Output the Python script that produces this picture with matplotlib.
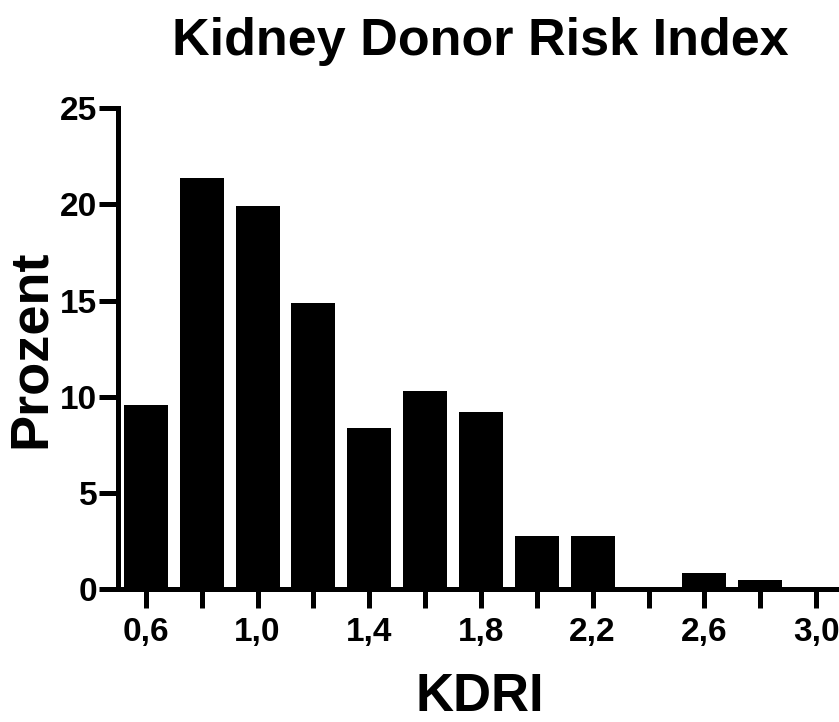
import matplotlib.pyplot as plt
import numpy as np

plt.rcParams['font.family'] = ['Liberation Sans', 'DejaVu Sans']
plt.rcParams['font.weight'] = 'bold'

# KDRI-Klassen und Anteil in Prozent
kdri = [0.6, 0.8, 1.0, 1.2, 1.4, 1.6, 1.8, 2.0, 2.2, 2.4, 2.6, 2.8, 3.0]
prozent = [9.6, 21.4, 19.9, 14.9, 8.4, 10.3, 9.2, 2.75, 2.75, 0.0, 0.85, 0.45, 0.0]
tick_labels = ['0,6', '', '1,0', '', '1,4', '', '1,8', '', '2,2', '', '2,6', '', '3,0']

fig = plt.figure(figsize=(8.39, 7.22), dpi=100)
ax = fig.add_axes([0.1406, 0.184, 0.862, 0.666])

ax.bar(kdri, prozent, width=0.158, color='black')

ax.set_xlim(0.5, 3.09)
ax.set_ylim(0, 25)
ax.set_xticks(kdri)
ax.set_xticklabels(tick_labels)
ax.set_yticks([0, 5, 10, 15, 20, 25])

for s in ['top', 'right']:
    ax.spines[s].set_visible(False)
for s in ['left', 'bottom']:
    ax.spines[s].set_linewidth(3.6)

ax.tick_params(axis='both', direction='out', length=14, width=3.6, labelsize=24, pad=1)
ax.tick_params(axis='x', pad=6)
for lab in ax.get_xticklabels() + ax.get_yticklabels():
    lab.set_fontweight('bold')

ax.set_xlabel('KDRI', fontsize=38, fontweight='bold')
ax.set_ylabel('Prozent', fontsize=39, fontweight='bold')
ax.xaxis.set_label_coords(0.5, -0.172)
ax.yaxis.set_label_coords(-0.086, 0.5)
fig.text(0.573, 0.943, 'Kidney Donor Risk Index', fontsize=37.5, fontweight='bold',
         ha='center', va='center')

fig.savefig('out.png', dpi=100)
